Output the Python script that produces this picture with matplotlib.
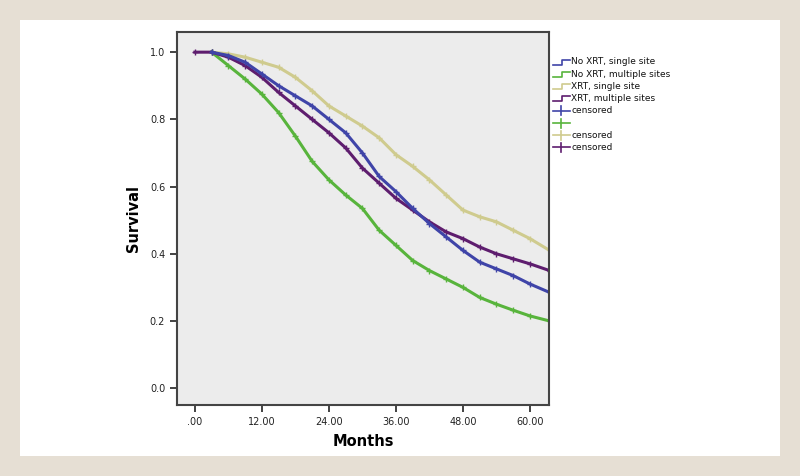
import matplotlib.pyplot as plt
from matplotlib.lines import Line2D
from matplotlib.patches import Rectangle

# survival (months vs proportion surviving)
months = [3, 6, 9, 12, 15, 18, 21, 24, 27, 30, 33, 36, 39, 42, 45, 48, 51, 54, 57, 60, 63.5]

no_xrt_single = [1.0, 0.99, 0.97, 0.935, 0.90, 0.87, 0.84, 0.80, 0.76, 0.70, 0.63, 0.585,
                 0.535, 0.49, 0.45, 0.41, 0.375, 0.355, 0.335, 0.31, 0.285]
no_xrt_multi = [1.0, 0.96, 0.92, 0.875, 0.82, 0.75, 0.675, 0.62, 0.575, 0.535, 0.47, 0.425,
                0.38, 0.35, 0.325, 0.30, 0.27, 0.25, 0.232, 0.215, 0.20]
xrt_single = [1.0, 0.995, 0.985, 0.97, 0.955, 0.925, 0.885, 0.84, 0.81, 0.78, 0.745, 0.695,
              0.66, 0.62, 0.575, 0.53, 0.51, 0.495, 0.47, 0.445, 0.41]
xrt_multi_months = [0] + months
xrt_multi = [1.0, 1.0, 0.985, 0.96, 0.925, 0.88, 0.84, 0.80, 0.76, 0.715, 0.655, 0.61, 0.565,
             0.53, 0.495, 0.465, 0.445, 0.42, 0.40, 0.385, 0.37, 0.35]

x_ticks = [0, 12, 24, 36, 48, 60]
x_labels = ['.00', '12.00', '24.00', '36.00', '48.00', '60.00']
y_ticks = [0.0, 0.2, 0.4, 0.6, 0.8, 1.0]

labels = ['No XRT, single site', 'No XRT, multiple sites', 'XRT, single site',
          'XRT, multiple sites', 'censored', '', 'censored', 'censored']

c_blue = '#3f44a8'
c_green = '#58b43c'
c_yellow = '#cfcb8e'
c_purple = '#5e1d6e'

W, H = 800, 476
fig = plt.figure(figsize=(W / 100, H / 100), dpi=100, facecolor='#e6dfd4')
fig.add_artist(Rectangle((20 / W, 20 / H), 760 / W, 436 / H, transform=fig.transFigure,
                         facecolor='white', edgecolor='none', zorder=0))

ax = fig.add_axes([177 / W, 71 / H, 372 / W, 373 / H])
ax.set_facecolor('#ececec')

series = [(xrt_single, months, c_yellow),
          (no_xrt_multi, months, c_green),
          (xrt_multi, xrt_multi_months, c_purple),
          (no_xrt_single, months, c_blue)]
for vals, xs, col in series:
    ax.plot(xs, vals, color=col, lw=2.2, marker='+', ms=5, mew=1.0, solid_joinstyle='round')

ax.set_xlim(-3.2, 63.4)
ax.set_ylim(-0.05, 1.06)
ax.set_xticks(x_ticks)
ax.set_xticklabels(x_labels)
ax.set_yticks(y_ticks)
ax.set_yticklabels([f'{v:.1f}' for v in y_ticks])
ax.tick_params(direction='out', length=5, width=1.2, labelsize=7, colors='#222222')
for s in ax.spines.values():
    s.set_color('#444444')
    s.set_linewidth(1.5)

ax.set_xlabel('Months', fontsize=10.5, fontweight='bold', labelpad=5)
ax.set_ylabel('Survival', fontsize=10.5, fontweight='bold', labelpad=6)

# legend drawn by hand: step glyphs then censor glyphs
leg_cols = [c_blue, c_green, c_yellow, c_purple, c_blue, c_green, c_yellow, c_purple]
for i, (lab, col) in enumerate(zip(labels, leg_cols)):
    y = H - (62 + 12.2 * i)
    if i < 4:
        xs = [553, 562, 562, 570]
        ys = [y - 2.5, y - 2.5, y + 2.5, y + 2.5]
        fig.add_artist(Line2D([v / W for v in xs], [v / H for v in ys], color=col, lw=1.2))
    else:
        fig.add_artist(Line2D([553 / W, 570 / W], [y / H, y / H], color=col, lw=1.2))
        fig.add_artist(Line2D([561 / W, 561 / W], [(y - 4.5) / H, (y + 4.5) / H], color=col, lw=1.2))
    fig.text(571 / W, y / H, lab, fontsize=6.5, va='center', ha='left', color='#111111')

fig.savefig('out.png', dpi=100, facecolor=fig.get_facecolor())
